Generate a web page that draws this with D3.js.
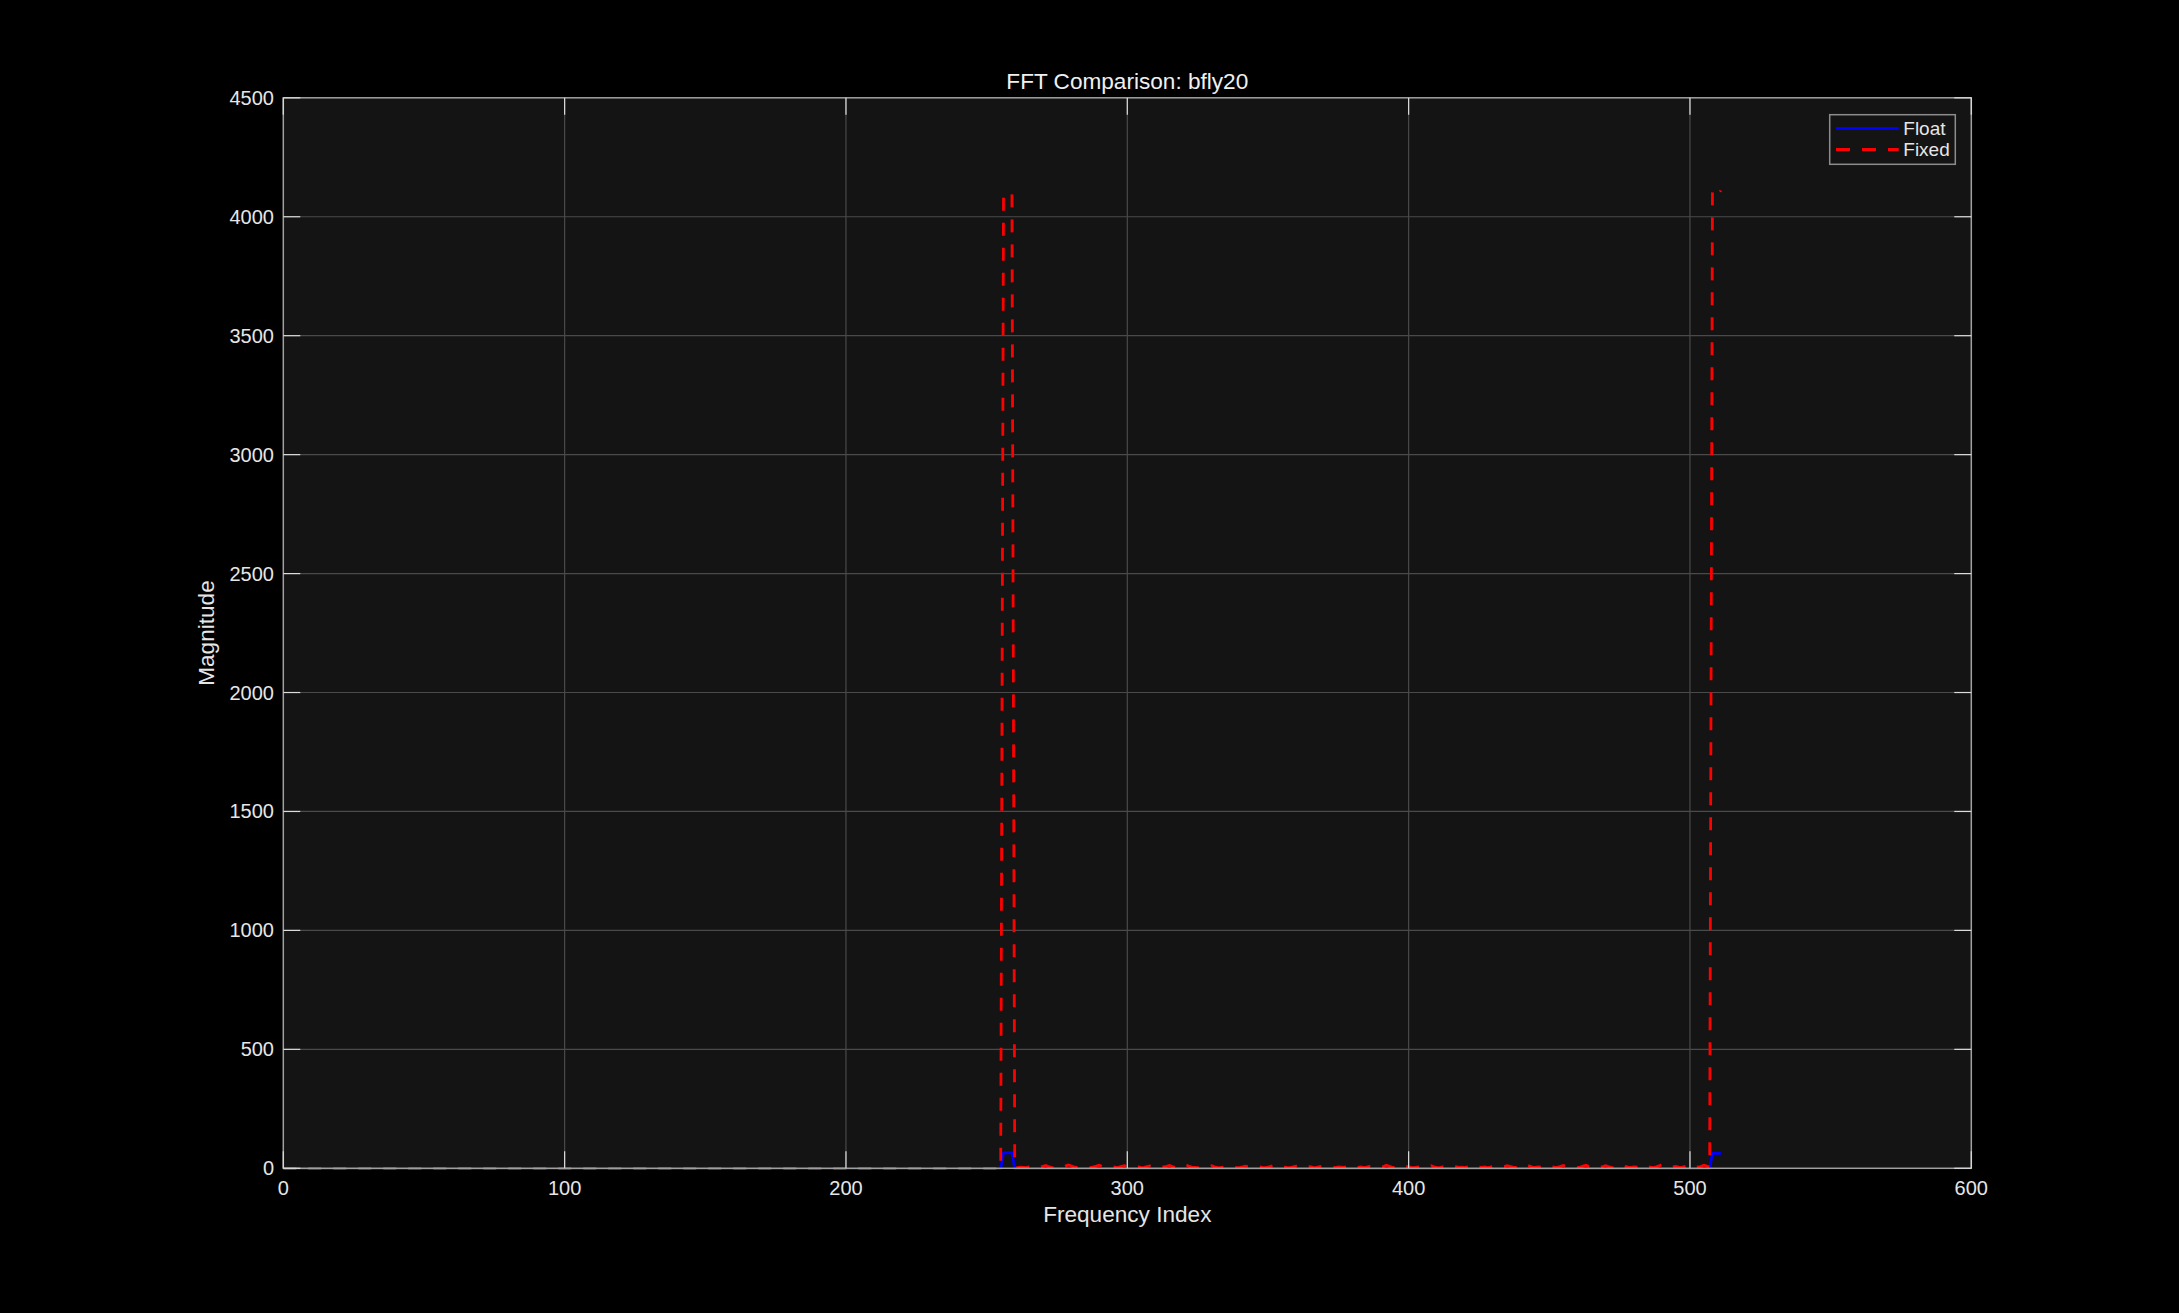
<!DOCTYPE html>
<html>
<head>
<meta charset="utf-8">
<script src="https://cdn.jsdelivr.net/npm/d3@7"></script>
<style>
  html, body { margin: 0; padding: 0; background: #000; }
  svg { display: block; }
</style>
</head>
<body>
<svg id="chart" width="2179" height="1313"></svg>
<script>
// ---------------- data ----------------
const chartTitle = "FFT Comparison: bfly20";
const xLabel = "Frequency Index";
const yLabel = "Magnitude";
const seriesNames = ["Float", "Fixed"];
const xTicks = [0, 100, 200, 300, 400, 500, 600];
const yTicks = [0, 500, 1000, 1500, 2000, 2500, 3000, 3500, 4000, 4500];

// frequency bins 0..511
const freqIndex = d3.range(0, 512);

// Float magnitude: flat at 0 except two small plateaus
const floatMag = [
  ...Array(256).fill(0),
  65, 65, 65, 65,               // bins 256-259
  ...Array(248).fill(0),
  63, 63, 63, 63                // bins 508-511
];

// Fixed magnitude: 0 up to bin 255, big plateau, low-level noise, second peak
const fixedPeak1 = [4094, 4095, 4095, 4095];   // bins 256-259
const fixedNoise = [                               // bins 260-507
  2,3,5,4,3,6,4,2,3,5,
  8,12,7,4,3,5,6,4,9,14,
  10,6,4,3,5,7,5,3,6,9,
  13,8,5,4,3,6,4,5,8,11,
  7,4,3,5,6,3,4,7,10,6,
  4,5,3,6,8,12,7,4,3,5,
  9,14,8,5,4,3,6,4,5,7,
  11,6,4,3,5,4,6,8,5,3,
  4,6,9,7,4,3,5,6,4,3,
  5,8,12,7,4,6,5,3,4,6,
  9,6,4,3,5,7,4,3,6,8,
  10,7,5,4,3,6,5,4,7,12,
  9,5,4,6,3,5,8,6,4,3,
  5,7,13,9,5,4,6,3,5,8,
  6,4,3,5,7,4,6,9,11,6,
  4,3,6,5,4,7,10,6,4,5,
  3,6,9,12,7,5,4,6,3,5,
  8,6,4,5,7,11,8,5,4,3,
  6,10,14,9,5,4,6,5,3,7,
  9,6,4,5,8,12,7,5,4,6,
  3,5,9,13,8,4,5,6,4,7,
  11,7,4,3,6,9,14,8,5,4,
  6,5,8,12,7,4,5,3,6,10,
  15,9,5,4,6,8,5,4,7,11,
  16,10,6,5,8,13,9,6
];
const fixedPeak2 = [4108, 4096, 4092, 4110];   // bins 508-511
const fixedMag = [...Array(256).fill(0), ...fixedPeak1, ...fixedNoise, ...fixedPeak2];

// ---------------- layout ----------------
const W = 2179, H = 1313;
const plot = { left: 283.3, right: 1971.3, top: 97.8, bottom: 1168.3 };

const svg = d3.select("#chart");
svg.append("rect").attr("x", 0).attr("y", 0).attr("width", W).attr("height", H).attr("fill", "#000");

const x = d3.scaleLinear().domain([0, 600]).range([plot.left, plot.right]);
const y = d3.scaleLinear().domain([0, 4500]).range([plot.bottom, plot.top]);

const textColor = "#e6e6e6";
const font = "'Liberation Sans', Arial, Helvetica, sans-serif";

// plot background
svg.append("rect")
  .attr("x", plot.left).attr("y", plot.top)
  .attr("width", plot.right - plot.left).attr("height", plot.bottom - plot.top)
  .attr("fill", "#141414");

// grid
const grid = svg.append("g");
grid.selectAll("line.vg").data(xTicks.slice(1, -1)).join("line")
  .attr("x1", d => x(d)).attr("x2", d => x(d))
  .attr("y1", plot.top).attr("y2", plot.bottom)
  .attr("stroke", "#4a4a4a").attr("stroke-width", 1.2);
grid.selectAll("line.hg").data(yTicks.slice(1, -1)).join("line")
  .attr("x1", plot.left).attr("x2", plot.right)
  .attr("y1", d => y(d)).attr("y2", d => y(d))
  .attr("stroke", "#4a4a4a").attr("stroke-width", 1.2);

// lines
const lineGen = d3.line().x((d, i) => x(freqIndex[i])).y(d => y(d));

svg.append("path").datum(floatMag)
  .attr("d", lineGen)
  .attr("fill", "none").attr("stroke", "#0000ff").attr("stroke-width", 2.8)
  .attr("stroke-linejoin", "round");
svg.append("path").datum(fixedMag)
  .attr("d", lineGen)
  .attr("fill", "none").attr("stroke", "#ff0000").attr("stroke-width", 2.8)
  .attr("stroke-dasharray", "13,12");

// axes box
const tickLen = 17;
const axG = svg.append("g");
axG.append("rect")
  .attr("x", plot.left).attr("y", plot.top)
  .attr("width", plot.right - plot.left).attr("height", plot.bottom - plot.top)
  .attr("fill", "none").attr("stroke", "#a0a0a0").attr("stroke-width", 1.5);

// ticks (inside, all four sides)
const tickColor = "#dcdcdc";
axG.selectAll("line.xb").data(xTicks).join("line")
  .attr("x1", d => x(d)).attr("x2", d => x(d))
  .attr("y1", plot.bottom).attr("y2", plot.bottom - tickLen)
  .attr("stroke", tickColor).attr("stroke-width", 1.2);
axG.selectAll("line.xt").data(xTicks).join("line")
  .attr("x1", d => x(d)).attr("x2", d => x(d))
  .attr("y1", plot.top).attr("y2", plot.top + tickLen)
  .attr("stroke", tickColor).attr("stroke-width", 1.2);
axG.selectAll("line.yl").data(yTicks).join("line")
  .attr("x1", plot.left).attr("x2", plot.left + tickLen)
  .attr("y1", d => y(d)).attr("y2", d => y(d))
  .attr("stroke", tickColor).attr("stroke-width", 1.2);
axG.selectAll("line.yr").data(yTicks).join("line")
  .attr("x1", plot.right).attr("x2", plot.right - tickLen)
  .attr("y1", d => y(d)).attr("y2", d => y(d))
  .attr("stroke", tickColor).attr("stroke-width", 1.2);

// tick labels
axG.selectAll("text.xl").data(xTicks).join("text")
  .attr("x", d => x(d)).attr("y", 1195)
  .attr("text-anchor", "middle")
  .attr("fill", textColor).attr("font-family", font).attr("font-size", 20)
  .text(d => d);
axG.selectAll("text.yl").data(yTicks).join("text")
  .attr("x", 274).attr("y", d => y(d)).attr("dy", "0.35em")
  .attr("text-anchor", "end")
  .attr("fill", textColor).attr("font-family", font).attr("font-size", 20)
  .text(d => d);

// title and axis labels
svg.append("text")
  .attr("x", (plot.left + plot.right) / 2).attr("y", 89)
  .attr("text-anchor", "middle").attr("fill", "#f0f0f0")
  .attr("font-family", font).attr("font-size", 22.6)
  .text(chartTitle);
svg.append("text")
  .attr("x", (plot.left + plot.right) / 2).attr("y", 1222)
  .attr("text-anchor", "middle").attr("fill", textColor)
  .attr("font-family", font).attr("font-size", 22.6)
  .text(xLabel);
svg.append("text")
  .attr("transform", `translate(214, ${(plot.top + plot.bottom) / 2}) rotate(-90)`)
  .attr("text-anchor", "middle").attr("fill", textColor)
  .attr("font-family", font).attr("font-size", 22.6)
  .text(yLabel);

// legend
const leg = svg.append("g");
const lx = 1829.7, ly = 114.7, lw = 125.6, lh = 49.6;
leg.append("rect").attr("x", lx).attr("y", ly).attr("width", lw).attr("height", lh)
  .attr("fill", "#141414").attr("stroke", "#8c8c8c").attr("stroke-width", 1.5);
const legItems = [
  { name: seriesNames[0], color: "#0000ff", dash: null, yy: 128.3 },
  { name: seriesNames[1], color: "#ff0000", dash: "14,12", yy: 149.5 }
];
legItems.forEach(it => {
  leg.append("line")
    .attr("x1", 1836).attr("x2", 1898.7).attr("y1", it.yy).attr("y2", it.yy)
    .attr("stroke", it.color).attr("stroke-width", 2.8)
    .attr("stroke-dasharray", it.dash);
  leg.append("text")
    .attr("x", 1903.3).attr("y", it.yy).attr("dy", "0.33em")
    .attr("fill", textColor).attr("font-family", font).attr("font-size", 19)
    .text(it.name);
});
</script>
</body>
</html>
